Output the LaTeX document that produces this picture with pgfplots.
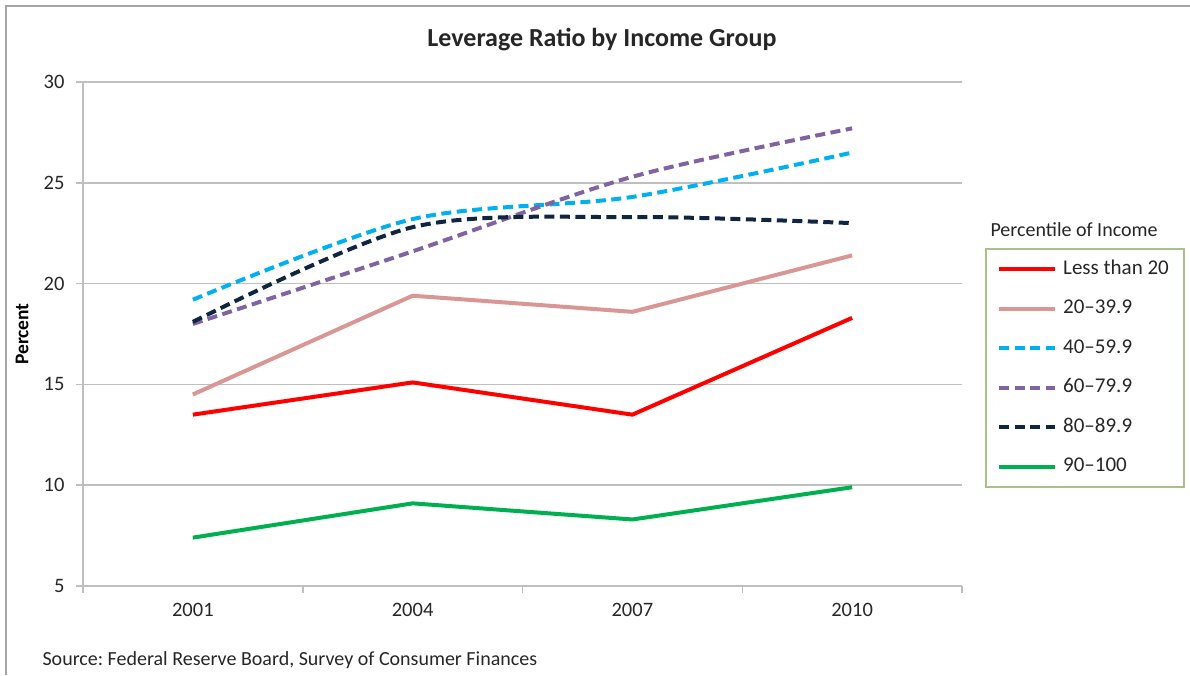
\documentclass[border=0pt]{standalone}
\usepackage{pgfplots}
\pgfplotsset{compat=1.18}
\usepackage{fontspec}
\setmainfont{Carlito}
\frenchspacing
\definecolor{cRed}{HTML}{FF0000}
\definecolor{cPink}{HTML}{D99694}
\definecolor{cCyan}{HTML}{00B0F0}
\definecolor{cPurple}{HTML}{8064A2}
\definecolor{cNavy}{HTML}{10253F}
\definecolor{cGreen}{HTML}{00B050}
\definecolor{cGrid}{HTML}{BFBFBF}
\definecolor{cFrame}{HTML}{A6A6A6}
\definecolor{cLeg}{HTML}{A9C08A}
\definecolor{cText}{HTML}{262626}
\begin{document}
\begin{tikzpicture}
\useasboundingbox (0pt,0pt) rectangle (1190pt,-675pt);
\draw[cFrame, line width=1.5pt] (6pt,-675pt) -- (6pt,-6pt) -- (1190pt,-6pt);
\node[text=cText, font=\bfseries\fontsize{26}{31}\selectfont] at (602pt,-40pt) {Leverage Ratio by Income Group};
\node[text=cText, anchor=west, font=\fontsize{20}{24}\selectfont] at (39pt,-660pt) {Source: Federal Reserve Board, Survey of Consumer Finances};
\node[text=cText, anchor=west, font=\fontsize{20}{24}\selectfont] at (987pt,-230pt) {Percentile of Income};
\draw[cLeg, line width=1.5pt] (986pt,-249pt) rectangle (1184pt,-487pt);
\begin{axis}[
  at={(83pt,-586pt)}, anchor=south west,
  scale only axis, width=879pt, height=504pt,
  xmin=-0.5, xmax=3.5, ymin=5, ymax=30,
  axis x line*=bottom, axis y line*=left,
  axis line style={draw=cGrid, line width=1.5pt},
  ytick={5,10,15,20,25,30},
  ymajorgrids, grid style={cGrid, line width=1.5pt},
  major tick length=7pt, tick align=outside,
  tick style={cGrid, line width=1.5pt},
  xtick={-0.5,0.5,1.5,2.5,3.5}, xticklabels={},
  extra x ticks={0,1,2,3}, extra x tick labels={2001,2004,2007,2010},
  extra x tick style={major tick length=0pt, grid=none},
  ticklabel style={font=\fontsize{20.5}{24}\selectfont, text=cText},
  xticklabel style={yshift=-14pt},
  yticklabel style={xshift=-8pt},
  /pgf/number format/assume math mode=true,
  ylabel={\textbf{Percent}},
  ylabel style={at={(axis description cs:-0.0694,0.5)}, anchor=center, text=black, font=\fontsize{19.5}{23}\selectfont},
  legend style={at={(axis description cs:1.0398,0.6468)}, anchor=north west, draw=none, fill=none, inner sep=0pt,
    row sep=21.5pt, column sep=6pt,
    nodes={inner sep=0pt, text height=14pt, text depth=4pt, text=cText, font=\fontsize{21}{25}\selectfont}},
  legend cell align=left,
  legend image code/.code={\draw[#1] (0pt,0pt) -- (56pt,0pt);},
  every axis plot/.append style={line width=4pt, line join=round},
  clip=false,
]
\addplot[cRed] coordinates {(0,13.5)(1,15.1)(2,13.5)(3,18.3)};
\addlegendentry{Less than 20}
\addplot[cPink] coordinates {(0,14.5)(1,19.4)(2,18.6)(3,21.4)};
\addlegendentry{20--39.9}
\addplot[cCyan, dash pattern=on 10pt off 5.5pt, smooth] coordinates {(0,19.2)(1,23.2)(2,24.3)(3,26.5)};
\addlegendentry{40--59.9}
\addplot[cPurple, dash pattern=on 10pt off 5.5pt, smooth] coordinates {(0,18.0)(1,21.6)(2,25.3)(3,27.7)};
\addlegendentry{60--79.9}
\addplot[cNavy, dash pattern=on 10pt off 5.5pt, smooth] coordinates {(0,18.1)(1,22.8)(2,23.3)(3,23.0)};
\addlegendentry{80--89.9}
\addplot[cGreen] coordinates {(0,7.4)(1,9.1)(2,8.3)(3,9.9)};
\addlegendentry{90--100}
\end{axis}
\end{tikzpicture}
\end{document}
